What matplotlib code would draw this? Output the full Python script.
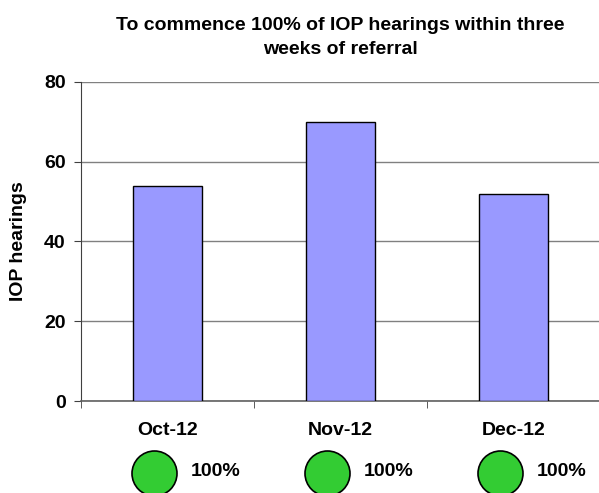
import matplotlib
matplotlib.use("Agg")
import matplotlib.pyplot as plt
import matplotlib.transforms as mtransforms

categories = ["Oct-12", "Nov-12", "Dec-12"]
values = [54, 70, 52]
status_labels = ["100%", "100%", "100%"]
yticks = [0, 20, 40, 60, 80]

plt.rcParams['font.family'] = ['Liberation Sans', 'DejaVu Sans']

fig = plt.figure(figsize=(5.99, 4.93), dpi=100)
ax = fig.add_axes([81/599, 92/493, (600-81)/599, (401-82)/493])

x = list(range(len(categories)))
ax.bar(x, values, width=0.4, color="#9999FF", edgecolor="black", linewidth=1, zorder=3)
ax.set_xlim(-0.5, len(categories) - 0.5)
ax.set_ylim(0, 80)
ax.set_yticks(yticks)
ax.set_yticklabels([str(t) for t in yticks], fontsize=14, fontweight="bold")
ax.yaxis.grid(True, color="#808080", linewidth=1, zorder=0)
ax.set_xticks(x)
ax.set_xticklabels(categories, fontsize=14, fontweight="bold")
ax.tick_params(axis="x", which="major", length=0, pad=15)
ax.set_xticks([i + 0.5 for i in range(len(categories) - 1)] + [-0.5], minor=True)
ax.tick_params(axis="x", which="minor", length=5, color="#404040")
ax.tick_params(axis="y", length=5, color="#404040", pad=6)
for s in ["top", "right"]:
    ax.spines[s].set_visible(False)
ax.spines["left"].set_color("#404040")
ax.spines["bottom"].set_color("#606060")
ax.spines["bottom"].set_linewidth(1.2)
ax.set_ylabel("IOP hearings", fontsize=14, fontweight="bold", labelpad=12)

ax.set_title("To commence 100% of IOP hearings within three\nweeks of referral",
             fontsize=14, fontweight="bold", pad=20, x=0.5, linespacing=1.55)

trans = mtransforms.blended_transform_factory(ax.transData, ax.transAxes)
ax.scatter([i - 0.08 for i in x], [-0.225] * len(x), s=1050, color="#33CC33",
           edgecolor="black", linewidth=1.2, transform=trans, clip_on=False, zorder=5)
for i, lab in zip(x, status_labels):
    ax.text(i + 0.28, -0.222, lab, transform=trans, ha="center", va="center",
            fontsize=14, fontweight="bold")

fig.savefig("out.png", dpi=100)
